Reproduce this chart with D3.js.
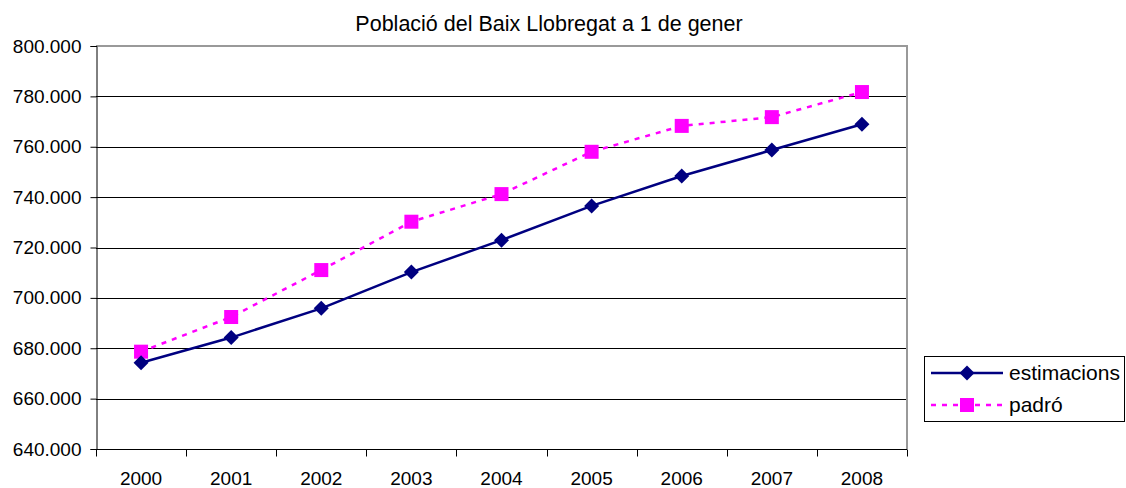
<!DOCTYPE html>
<html>
<head>
<meta charset="utf-8">
<script src="https://cdn.jsdelivr.net/npm/d3@7"></script>
<style>
  body { margin: 0; background: #fff; }
  svg { display: block; font-family: "Liberation Sans", Arial, sans-serif; }
</style>
</head>
<body>
<svg id="chart" width="1126" height="488"></svg>
<script>
var years = ['2000', '2001', '2002', '2003', '2004', '2005', '2006', '2007', '2008'];
var estimacions = [674240, 684240, 695840, 710240, 722920, 736520, 748400, 758680, 768960];
var padro = [678640, 692400, 711040, 730240, 741200, 758000, 768280, 771760, 781720];
var yTicks = [640000, 660000, 680000, 700000, 720000, 740000, 760000, 780000, 800000];
var title = 'Població del Baix Llobregat a 1 de gener';

var svg = d3.select('#chart');
var plotL = 96, plotR = 907, plotT = 46, plotB = 449;

var x = d3.scaleBand().domain(years).range([plotL, plotR]);
var y = d3.scaleLinear().domain([640000, 800000]).range([plotB, plotT]);

var fmt = function(v) { return d3.format(',')(v).replace(/,/g, '.'); };

// title
svg.append('text')
  .attr('x', 549).attr('y', 31)
  .attr('text-anchor', 'middle')
  .attr('font-size', 21.5)
  .text(title);

// gridlines
svg.append('g').selectAll('line')
  .data(yTicks.slice(1, -1))
  .enter().append('line')
  .attr('x1', plotL).attr('x2', plotR)
  .attr('y1', function(d) { return Math.round(y(d)) + 0.5; })
  .attr('y2', function(d) { return Math.round(y(d)) + 0.5; })
  .attr('stroke', '#000').attr('stroke-width', 1);

// plot border top/right (grey)
svg.append('path')
  .attr('d', 'M' + plotL + ',' + plotT + 'H' + plotR + 'V' + plotB)
  .attr('fill', 'none').attr('stroke', '#999').attr('stroke-width', 2);

// y axis
var yAxis = d3.axisLeft(y).tickValues(yTicks).tickSize(6).tickPadding(9).tickFormat(fmt);
var gy = svg.append('g').attr('transform', 'translate(' + (plotL + 0.5) + ',0)').call(yAxis);
gy.select('.domain').attr('stroke', '#000');
gy.selectAll('.tick line').attr('stroke', '#000');
gy.selectAll('text').attr('font-size', 19).attr('fill', '#000')
  .style('font-family', '"Liberation Sans", Arial, sans-serif');

// x axis: ticks at band edges
var gx = svg.append('g').attr('transform', 'translate(0,' + (plotB + 0.5) + ')');
gx.append('line').attr('x1', plotL).attr('x2', plotR).attr('stroke', '#000');
gx.selectAll('line.tk')
  .data(years.concat(['end']))
  .enter().append('line')
  .attr('class', 'tk')
  .attr('x1', function(d, i) { return Math.round(plotL + i * x.bandwidth()) + 0.5; })
  .attr('x2', function(d, i) { return Math.round(plotL + i * x.bandwidth()) + 0.5; })
  .attr('y1', 0).attr('y2', 7)
  .attr('stroke', '#000');
gx.selectAll('text')
  .data(years)
  .enter().append('text')
  .attr('x', function(d) { return x(d) + x.bandwidth() / 2; })
  .attr('y', 35)
  .attr('text-anchor', 'middle')
  .attr('font-size', 19)
  .text(function(d) { return d; });

var cx = function(d, i) { return x(years[i]) + x.bandwidth() / 2; };
var line = d3.line().x(cx).y(function(d) { return y(d); });

var diamond = 'M0,-7.5L7.5,0L0,7.5L-7.5,0Z';

// padró
svg.append('path').datum(padro)
  .attr('d', line)
  .attr('fill', 'none').attr('stroke', '#ff00ff')
  .attr('stroke-width', 2.5).attr('stroke-dasharray', '5,6');
svg.append('g').selectAll('rect')
  .data(padro).enter().append('rect')
  .attr('x', function(d, i) { return cx(d, i) - 7; })
  .attr('y', function(d) { return y(d) - 7; })
  .attr('width', 14).attr('height', 14)
  .attr('fill', '#ff00ff');

// estimacions
svg.append('path').datum(estimacions)
  .attr('d', line)
  .attr('fill', 'none').attr('stroke', '#000080').attr('stroke-width', 2.5);
svg.append('g').selectAll('path')
  .data(estimacions).enter().append('path')
  .attr('d', diamond)
  .attr('transform', function(d, i) { return 'translate(' + cx(d, i) + ',' + y(d) + ')'; })
  .attr('fill', '#000080');

// legend
var lg = svg.append('g');
lg.append('rect')
  .attr('x', 924.5).attr('y', 356.5).attr('width', 200).attr('height', 65)
  .attr('fill', '#fff').attr('stroke', '#000');

var e1 = lg.append('g').attr('transform', 'translate(0,373)');
e1.append('line').attr('x1', 931).attr('x2', 1003).attr('stroke', '#000080').attr('stroke-width', 2.5);
e1.append('path').attr('d', diamond).attr('transform', 'translate(967,0)').attr('fill', '#000080');
e1.append('text').attr('x', 1009).attr('y', 7).attr('font-size', 21).text('estimacions');

var e2 = lg.append('g').attr('transform', 'translate(0,405)');
e2.append('line').attr('x1', 931).attr('x2', 1003).attr('stroke', '#ff00ff')
  .attr('stroke-width', 2.5).attr('stroke-dasharray', '5,6');
e2.append('rect').attr('x', 960).attr('y', -7).attr('width', 14).attr('height', 14).attr('fill', '#ff00ff');
e2.append('text').attr('x', 1009).attr('y', 7).attr('font-size', 21).text('padró');
</script>
</body>
</html>
